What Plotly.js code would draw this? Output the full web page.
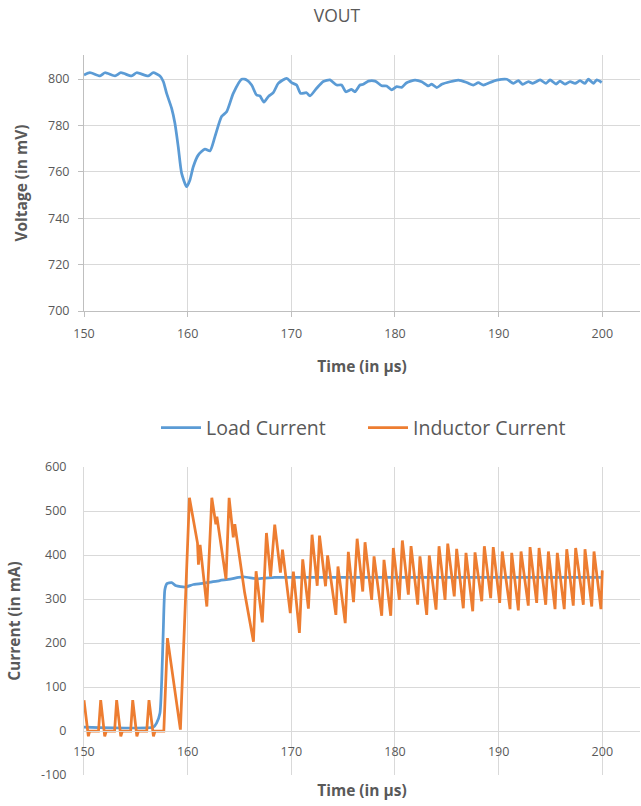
<!DOCTYPE html>
<html>
<head>
<meta charset="utf-8">
<script src="https://cdn.plot.ly/plotly-3.0.1.min.js"></script>
<style>html,body{margin:0;padding:0;background:#fff;}#chart{width:641px;height:806px;}</style>
</head>
<body>
<div id="chart"></div>
<script>
// ---- Data ----
const voutTime = [150.0, 150.57, 151.54, 152.02, 152.99, 153.56, 154.59, 155.08, 156.2, 156.68, 157.33, 157.65, 157.97, 158.45, 158.77, 159.09, 159.42, 159.9, 160.22, 160.54, 161.02, 161.67, 162.15, 162.63, 163.27, 163.76, 164.4, 165.2, 165.69, 166.17, 166.65, 166.97, 167.36, 167.78, 168.26, 168.74, 169.55, 170.03, 170.51, 170.9, 171.47, 171.8, 172.44, 173.08, 173.73, 174.37, 174.85, 175.27, 175.81, 176.14, 176.62, 176.95, 177.43, 178.08, 178.72, 179.2, 179.68, 180.17, 180.65, 181.13, 181.93, 182.58, 183.22, 183.54, 184.03, 184.51, 185.31, 186.12, 186.92, 187.56, 188.04, 188.53, 189.17, 189.81, 190.78, 191.42, 191.9, 192.32, 192.87, 193.29, 194.0, 194.57, 194.96, 195.54, 195.92, 196.4, 196.89, 197.37, 197.85, 198.33, 198.65, 199.14, 199.46, 199.94];
const voutMv = [801.7, 802.7, 801.3, 802.7, 801.3, 802.7, 801.3, 802.7, 801.3, 802.7, 801.3, 798.9, 793.8, 787.4, 780.9, 770.8, 759.3, 753.6, 756.5, 762.2, 767.2, 769.8, 769.0, 775.1, 783.8, 785.9, 793.8, 799.9, 799.6, 797.4, 793.1, 792.7, 790.0, 792.4, 794.1, 798.1, 800.3, 798.4, 797.4, 793.8, 794.1, 792.7, 796.0, 798.9, 799.6, 797.4, 797.4, 794.5, 795.5, 794.5, 797.4, 797.7, 799.1, 799.1, 797.1, 797.0, 795.3, 796.7, 796.4, 798.4, 799.5, 798.8, 797.0, 797.8, 796.3, 797.7, 798.8, 799.5, 798.5, 797.4, 798.4, 797.4, 798.5, 799.5, 799.9, 798.1, 799.3, 797.7, 798.9, 798.1, 799.6, 798.1, 799.6, 797.8, 799.1, 797.8, 798.9, 798.1, 799.3, 798.1, 799.9, 798.1, 799.6, 798.5];

const loadTime = [150, 156.7, 157.0, 157.33, 157.5, 157.65, 157.8, 158.0, 158.45, 158.9, 159.75, 160.55, 161.85, 163.1, 164.1, 164.9, 165.5, 166.8, 168.4, 170, 175, 180, 185, 190, 195, 200];
const loadCurrent = [9, 9, 18, 41, 117, 230, 321, 335, 337, 330, 327, 333, 337, 342, 345, 349, 350, 346, 349, 349, 349, 349, 349, 349, 349, 349];

const indTime = [150.0, 150.42, 150.55, 151.4, 151.61, 152.0, 152.15, 152.95, 153.15, 153.55, 153.7, 154.5, 154.7, 155.1, 155.25, 156.05, 156.27, 156.7, 156.85, 157.7, 158.05, 159.3, 160.17, 160.95, 161.04, 161.2, 161.85, 162.33, 162.72, 162.82, 163.7, 164.0, 164.4, 164.55, 165.5, 166.35, 166.6, 167.2, 167.6, 168.0, 168.4, 168.95, 169.15, 169.9, 170.2, 170.78, 171.1, 171.65, 172.0, 172.5, 172.72, 173.3, 173.5, 174.3, 174.5, 175.2, 175.5, 176.0, 176.35, 176.89, 177.11, 177.75, 177.98, 178.72, 178.94, 179.59, 179.84, 180.42, 180.71, 181.29, 181.55, 182.19, 182.41, 183.06, 183.31, 183.96, 184.25, 184.83, 185.09, 185.72, 185.95, 186.59, 186.85, 187.5, 187.72, 188.37, 188.62, 189.23, 189.48, 190.1, 190.35, 191.1, 191.26, 191.9, 192.16, 192.86, 193.03, 193.67, 193.9, 194.54, 194.8, 195.44, 195.66, 196.33, 196.57, 197.2, 197.43, 198.17, 198.33, 198.98, 199.2, 199.87, 200.0];
const indCurrent = [70, -12, 0, 0, 70, -12, 0, 0, 70, -12, 0, 0, 70, -12, 0, 0, 70, -12, 0, 0, 211, 3, 530, 427, 378, 423, 283, 530, 470, 487, 345, 530, 440, 470, 314, 203, 363, 247, 450, 351, 469, 360, 412, 268, 362, 223, 390, 278, 446, 330, 444, 329, 399, 264, 374, 245, 407, 293, 437, 317, 429, 298, 397, 262, 389, 262, 416, 298, 433, 310, 420, 287, 397, 264, 399, 276, 420, 298, 426, 306, 414, 279, 405, 272, 406, 295, 420, 302, 418, 291, 408, 277, 405, 274, 408, 285, 418, 291, 416, 287, 408, 277, 405, 277, 413, 285, 416, 287, 413, 283, 408, 277, 365];

const timeTicks = [150, 160, 170, 180, 190, 200];
const voltTicks = [700, 720, 740, 760, 780, 800];
const currTicks = [-100, 0, 100, 200, 300, 400, 500, 600];

// ---- Layout helpers ----
const W = 641, H = 806;
const plotLeft = 84, plotRight = 640;
const pxPerUnit = 10.366;
const xMax = 150 + (plotRight - plotLeft) / pxPerUnit;
const topDom = [1 - 311 / H, 1 - 55 / H];
const botDom = [1 - 775 / H, 1 - 467 / H];
const yTopMax = 700 + (311 - 55) / 2.32;
const zeroPos = botDom[0] + (0 - (-100)) / 700 * (botDom[1] - botDom[0]);

const blue = '#5B9BD5', orange = '#ED7D31';
const grid = '#D9D9D9', axisCol = '#BFBFBF', textCol = '#595959';
const FONT = '"Open Sans", Lato, sans-serif';

const traces = [
  {x: voutTime, y: voutMv, type: 'scatter', mode: 'lines', xaxis: 'x', yaxis: 'y',
   line: {color: blue, width: 2.75, shape: 'spline', smoothing: 0.6}, showlegend: false, name: 'VOUT'},
  {x: loadTime, y: loadCurrent, type: 'scatter', mode: 'lines', xaxis: 'x2', yaxis: 'y2',
   line: {color: blue, width: 2.75, shape: 'spline', smoothing: 0.5}, name: 'Load Current'},
  {x: indTime, y: indCurrent, type: 'scatter', mode: 'lines', xaxis: 'x2', yaxis: 'y2',
   line: {color: orange, width: 2.75}, name: 'Inductor Current'}
];

const titleFont = {family: FONT, size: 15.5, color: textCol, weight: 700};
const tickFont = {family: FONT, size: 12.5, color: textCol};

const layout = {
  width: W, height: H,
  margin: {l: plotLeft, r: W - plotRight, t: 0, b: 0, pad: 0},
  paper_bgcolor: '#fff', plot_bgcolor: '#fff',
  font: {family: FONT, size: 12, color: textCol},
  title: {text: 'VOUT', x: 337 / W, xanchor: 'center', y: 1 - 16 / H, yanchor: 'middle',
          font: {family: FONT, size: 17.5, color: textCol}},
  showlegend: true,
  legend: {orientation: 'h', x: (363 - plotLeft) / (plotRight - plotLeft), xanchor: 'center', y: 1 - 428 / H, yanchor: 'middle',
           font: {family: FONT, size: 19.5, color: textCol}, itemwidth: 40,
           entrywidth: 152, entrywidthmode: 'pixels', bgcolor: 'rgba(0,0,0,0)'},
  xaxis: {domain: [0, 1], anchor: 'y', range: [150, xMax], tickvals: timeTicks, ticktext: timeTicks.map(String),
          showgrid: true, gridcolor: grid, gridwidth: 1, showline: true, linecolor: axisCol, linewidth: 1,
          ticks: 'outside', ticklen: 5, tickcolor: axisCol, zeroline: false, ticklabelstandoff: 6,
          tickfont: tickFont,
          title: {text: 'Time (in µs)', font: titleFont, standoff: 20}},
  yaxis: {domain: topDom, anchor: 'x', range: [700, yTopMax], tickvals: voltTicks, ticktext: voltTicks.map(String),
          showgrid: true, gridcolor: grid, gridwidth: 1, showline: true, linecolor: axisCol, linewidth: 1,
          ticks: 'outside', ticklen: 5, tickcolor: axisCol, zeroline: false, ticklabelstandoff: 6,
          tickfont: tickFont,
          title: {text: 'Voltage (in mV)', font: titleFont, standoff: 16}},
  xaxis2: {domain: [0, 1], anchor: 'free', position: zeroPos, range: [150, xMax], tickvals: timeTicks, ticktext: timeTicks.map(String),
           showgrid: true, gridcolor: grid, gridwidth: 1, showline: true, linecolor: grid, linewidth: 1,
           ticks: '', zeroline: false, ticklabelstandoff: 9,
           tickfont: tickFont,
           title: {text: 'Time (in µs)', font: titleFont, standoff: 26}},
  yaxis2: {domain: botDom, anchor: 'x2', range: [-100, 600], tickvals: currTicks, ticktext: currTicks.map(String),
           showgrid: true, gridcolor: grid, gridwidth: 1, showline: true, linecolor: grid, linewidth: 1,
           ticks: '', zeroline: false, ticklabelstandoff: 14,
           tickfont: tickFont,
           title: {text: 'Current (in mA)', font: titleFont, standoff: 16}}
};

Plotly.newPlot('chart', traces, layout, {displayModeBar: false, staticPlot: true});
</script>
</body>
</html>
